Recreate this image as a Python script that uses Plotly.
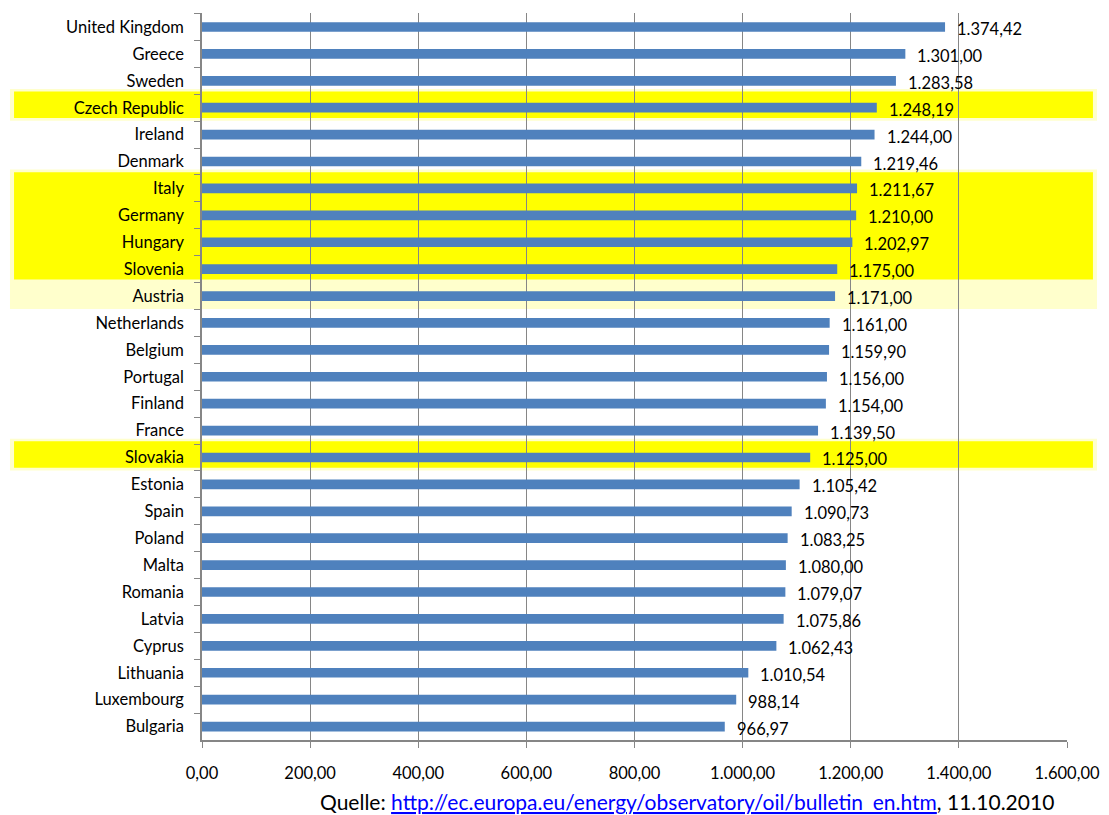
import plotly.graph_objects as go

countries = ["United Kingdom", "Greece", "Sweden", "Czech Republic", "Ireland", "Denmark",
             "Italy", "Germany", "Hungary", "Slovenia", "Austria", "Netherlands", "Belgium",
             "Portugal", "Finland", "France", "Slovakia", "Estonia", "Spain", "Poland", "Malta",
             "Romania", "Latvia", "Cyprus", "Lithuania", "Luxembourg", "Bulgaria"]
prices = [1374.42, 1301.00, 1283.58, 1248.19, 1244.00, 1219.46,
          1211.67, 1210.00, 1202.97, 1175.00, 1171.00, 1161.00, 1159.90,
          1156.00, 1154.00, 1139.50, 1125.00, 1105.42, 1090.73, 1083.25, 1080.00,
          1079.07, 1075.86, 1062.43, 1010.54, 988.14, 966.97]
highlight_strong = ["Czech Republic", "Italy", "Germany", "Hungary", "Slovenia", "Slovakia"]
highlight_pale = ["Austria"]
x_ticks = [0, 200, 400, 600, 800, 1000, 1200, 1400, 1600]

FONT = "Lato"
FS = 16.5
BLUE = "#4F81BD"
GRID = "#868686"


def de_fmt(v):
    s = f"{v:,.2f}"
    return s.replace(",", "X").replace(".", ",").replace("X", ".")


def groups(names):
    idx = sorted(countries.index(n) for n in names)
    out = []
    for i in idx:
        if out and out[-1][1] == i - 1:
            out[-1][1] = i
        else:
            out.append([i, i])
    return out


fig = go.Figure()
fig.add_trace(go.Bar(
    x=prices, y=countries, orientation="h",
    marker=dict(color=BLUE, line=dict(width=0)),
    hoverinfo="x+y",
))

shapes = []
strong_groups = groups(highlight_strong)
pale_groups = groups(highlight_pale)
for a, b in strong_groups + pale_groups:
    shapes.append(dict(type="rect", xref="paper", yref="y", layer="below",
                       x0=-0.222, x1=1.0347, y0=a - 0.5 - 0.2, y1=b + 0.5 - 0.02,
                       fillcolor="#FFFFCC", line=dict(width=0)))
for a, b in strong_groups:
    shapes.append(dict(type="rect", xref="paper", yref="y", layer="below",
                       x0=-0.2173, x1=1.030, y0=a - 0.5 - 0.1, y1=b + 0.5 - 0.12,
                       fillcolor="#FFFF00", line=dict(width=0)))

annotations = []
for c, v in zip(countries, prices):
    annotations.append(dict(x=v, y=c, xref="x", yref="y", text=de_fmt(v),
                            showarrow=False, xanchor="left", yanchor="middle",
                            xshift=10, yshift=-2,
                            font=dict(family=FONT, size=FS, color="#000000")))

annotations.append(dict(
    xref="paper", yref="paper", x=1.0, y=-0.085, xanchor="right", yanchor="middle",
    xshift=-11, showarrow=False,
    text="Quelle: <span style='color:#0000FF'><u>http://ec.europa.eu/energy/observatory/oil/bulletin_en.htm</u></span>, 11.10.2010",
    font=dict(family=FONT, size=21, color="#000000")))

fig.update_layout(
    width=1109, height=815,
    margin=dict(l=202, r=42, t=13, b=75, autoexpand=False),
    paper_bgcolor="white", plot_bgcolor="rgba(0,0,0,0)",
    bargap=0.64, showlegend=False,
    separators=",.",
    font=dict(family=FONT, size=FS, color="#000000"),
    shapes=shapes, annotations=annotations,
    xaxis=dict(range=[0, 1600], tickvals=x_ticks, tickformat=",.2f",
               showgrid=True, gridcolor=GRID, gridwidth=1,
               showline=True, linecolor=GRID, linewidth=1.5,
               ticks="outside", ticklen=6, tickcolor=GRID,
               ticklabelstandoff=11, zeroline=False,
               tickfont=dict(family=FONT, size=FS, color="#000000")),
    yaxis=dict(categoryorder="array", categoryarray=countries, autorange="reversed",
               showgrid=False, showline=True, linecolor=GRID, linewidth=1.5,
               ticks="outside", ticklen=6, tickcolor=GRID, tickson="boundaries",
               ticklabelstandoff=13,
               tickfont=dict(family=FONT, size=FS, color="#000000")),
)

fig.write_html("out.html")
